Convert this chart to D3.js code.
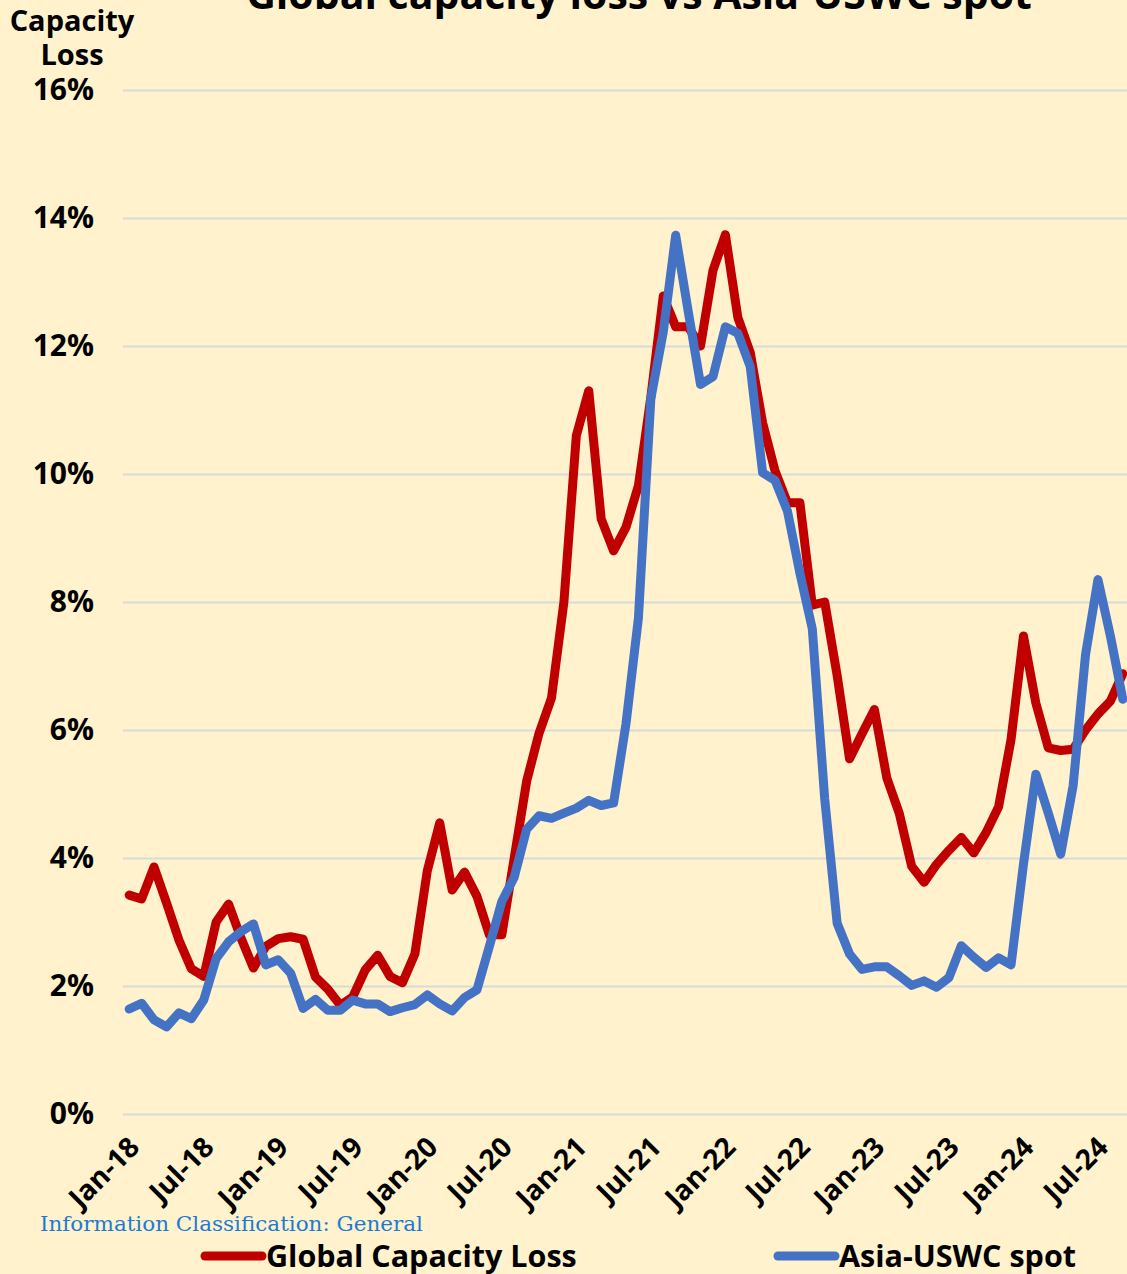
<!DOCTYPE html>
<html>
<head>
<meta charset="utf-8">
<script src="https://cdn.jsdelivr.net/npm/d3@7"></script>
<style>
body { margin:0; background:#FFF2CC; }
svg { display:block; }
text { font-family:"Open Sans", sans-serif; font-weight:700; fill:#000; }
text.footer { font-family:"DejaVu Serif", serif; font-weight:400; fill:#1A7BD6; }
</style>
</head>
<body>
<script>
// monthly values, Jan-18 .. Sep-24 (% of fleet / index)
var capacityLoss = [
  3.42, 3.36, 3.86, 3.30, 2.72, 2.27, 2.15, 3.00, 3.28, 2.75, 2.28, 2.62,
  2.74, 2.77, 2.73, 2.14, 1.95, 1.70, 1.83, 2.25, 2.48, 2.15, 2.05, 2.50,
  3.80, 4.55, 3.50, 3.78, 3.40, 2.80, 2.80, 4.00, 5.20, 5.95, 6.50, 8.00,
  10.60, 11.30, 9.30, 8.80, 9.17, 9.82, 11.20, 12.78, 12.30, 12.30, 12.00, 13.18,
  13.74, 12.45, 11.90, 10.80, 10.05, 9.55, 9.55, 7.95, 8.00, 6.85, 5.55, 5.94,
  6.32, 5.25, 4.70, 3.87, 3.62, 3.90, 4.12, 4.32, 4.08, 4.40, 4.80, 5.85,
  7.47, 6.42, 5.72, 5.68, 5.70, 6.00, 6.25, 6.45, 6.88
];
var asiaUswcSpot = [
  1.64, 1.73, 1.47, 1.36, 1.58, 1.49, 1.78, 2.43, 2.69, 2.85, 2.97, 2.33,
  2.41, 2.20, 1.65, 1.79, 1.62, 1.62, 1.78, 1.72, 1.72, 1.60, 1.66, 1.71,
  1.86, 1.72, 1.61, 1.82, 1.94, 2.62, 3.32, 3.70, 4.45, 4.66, 4.62, 4.70,
  4.78, 4.90, 4.82, 4.86, 6.10, 7.75, 11.18, 12.22, 13.73, 12.55, 11.40, 11.52,
  12.30, 12.20, 11.68, 10.02, 9.90, 9.42, 8.45, 7.58, 4.92, 2.98, 2.50, 2.26,
  2.30, 2.30, 2.16, 2.01, 2.08, 1.98, 2.13, 2.63, 2.45, 2.29, 2.44, 2.33,
  3.90, 5.31, 4.70, 4.06, 5.13, 7.18, 8.35, 7.47, 6.48
];
var yTicks = [0, 2, 4, 6, 8, 10, 12, 14, 16];
var xTickLabels = ["Jan-18","Jul-18","Jan-19","Jul-19","Jan-20","Jul-20","Jan-21",
  "Jul-21","Jan-22","Jul-22","Jan-23","Jul-23","Jan-24","Jul-24"];
var seriesNames = ["Global Capacity Loss", "Asia-USWC spot"];
var seriesColors = ["#C00000", "#4472C4"];

var fmt = d3.timeFormat("%b-%y");
var months = d3.timeMonth.range(new Date(2018, 0, 1), new Date(2018, capacityLoss.length, 1)).map(fmt);

var W = 1127, H = 1274;
var svg = d3.select("body").append("svg").attr("width", W).attr("height", H);
svg.append("rect").attr("width", W).attr("height", H).attr("fill", "#FFF2CC");

var x = d3.scaleBand().domain(months).range([123, 123 + 12.42 * months.length]);
var y = d3.scaleLinear().domain([0, 16]).range([1114, 90]);
var xc = function(m) { return x(m) + x.bandwidth() / 2; };

// gridlines + y labels
var yAxis = d3.axisLeft(y).tickValues(yTicks).tickSize(-(x.range()[1] - 123))
  .tickFormat(function(d) { return d + "%"; }).tickPadding(29);
var gy = svg.append("g").attr("transform", "translate(123,0)").call(yAxis);
gy.select(".domain").remove();
gy.selectAll(".tick line").attr("stroke", "#D9D9D9").attr("stroke-width", 2);
gy.selectAll(".tick text").attr("font-size", 30).attr("fill", "#000")
  .attr("font-family", "Open Sans").attr("font-weight", 700);

// x labels
svg.append("g").selectAll("text").data(xTickLabels).enter().append("text")
  .attr("text-anchor", "end")
  .attr("font-size", 28)
  .attr("dy", "0.35em")
  .attr("transform", function(d) { return "translate(" + (xc(d) + 5) + ",1142) rotate(-45)"; })
  .text(function(d) { return d; });

// lines
var line = d3.line().x(function(d, i) { return xc(months[i]); }).y(function(d) { return y(d); });
[capacityLoss, asiaUswcSpot].forEach(function(s, k) {
  svg.append("path").datum(s)
    .attr("fill", "none")
    .attr("stroke", seriesColors[k])
    .attr("stroke-width", 9)
    .attr("stroke-linejoin", "round")
    .attr("stroke-linecap", "round")
    .attr("d", line);
});

// title (clipped at top in the original)
svg.append("text").attr("x", 639).attr("y", 9).attr("text-anchor", "middle")
  .attr("font-size", 41).text("Global capacity loss vs Asia-USWC spot");

// y axis title
svg.append("text").attr("x", 72).attr("y", 31).attr("text-anchor", "middle")
  .attr("font-size", 29).text("Capacity");
svg.append("text").attr("x", 72).attr("y", 65).attr("text-anchor", "middle")
  .attr("font-size", 29).text("Loss");

// classification footer
svg.append("text").attr("class", "footer").attr("x", 40).attr("y", 1231)
  .attr("font-size", 20).attr("textLength", 383).attr("lengthAdjust", "spacingAndGlyphs")
  .text("Information Classification: General");

// legend
var legendX = [205, 778];
seriesNames.forEach(function(n, k) {
  svg.append("line").attr("x1", legendX[k]).attr("x2", legendX[k] + 57)
    .attr("y1", 1256).attr("y2", 1256)
    .attr("stroke", seriesColors[k]).attr("stroke-width", 9).attr("stroke-linecap", "round");
  svg.append("text").attr("x", legendX[k] + 61).attr("y", 1256).attr("dy", "0.35em")
    .attr("font-size", 30.5).text(n);
});
</script>
</body>
</html>
